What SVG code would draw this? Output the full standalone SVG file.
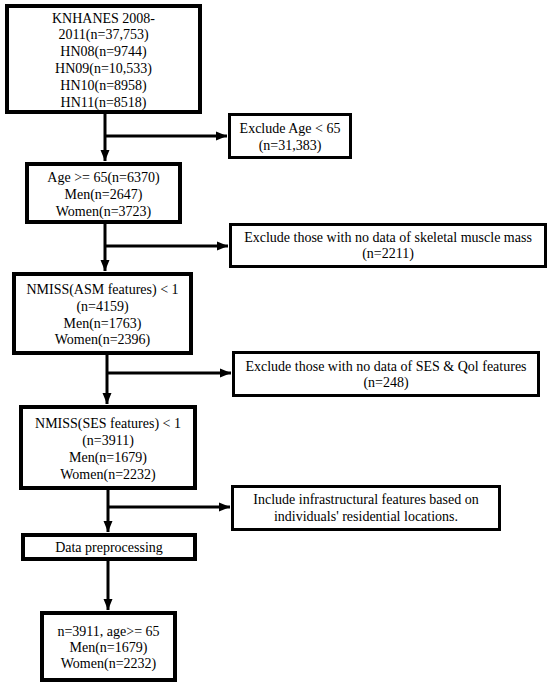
<svg xmlns="http://www.w3.org/2000/svg" width="550" height="686" viewBox="0 0 550 686">
<defs>
<style>
.main{fill:#fff;stroke:#000;stroke-width:4}
.side{fill:#fff;stroke:#000;stroke-width:3}
text{font-family:"Liberation Serif","Times New Roman",serif;font-size:14px;fill:#000;text-anchor:middle}
.c{fill:none;stroke:#000;stroke-width:3}
</style>
<marker id="ah" markerUnits="userSpaceOnUse" markerWidth="12" markerHeight="12" viewBox="0 0 12 12" refX="11" refY="6" orient="auto">
<path d="M0,1.5 L11,6 L0,10.5 Z" fill="#000"/>
</marker>
</defs>
<rect width="550" height="686" fill="#fff"/>
<g id="connectors">
<line class="c" x1="105" y1="114" x2="105" y2="161" marker-end="url(#ah)"/>
<line class="c" x1="105" y1="136" x2="227" y2="136" marker-end="url(#ah)"/>
<line class="c" x1="105" y1="224" x2="105" y2="271" marker-end="url(#ah)"/>
<line class="c" x1="105" y1="246" x2="228" y2="246" marker-end="url(#ah)"/>
<line class="c" x1="107" y1="355" x2="107" y2="404" marker-end="url(#ah)"/>
<line class="c" x1="107" y1="373" x2="231" y2="373" marker-end="url(#ah)"/>
<line class="c" x1="108" y1="490" x2="108" y2="532" marker-end="url(#ah)"/>
<line class="c" x1="108" y1="507" x2="230" y2="507" marker-end="url(#ah)"/>
<line class="c" x1="108" y1="561" x2="108" y2="610" marker-end="url(#ah)"/>
</g>
<g id="n1">
<rect class="main" x="7" y="6" width="193" height="106"/>
<text x="103.5" y="22.5">KNHANES 2008-</text>
<text x="103.5" y="39.3">2011(n=37,753)</text>
<text x="103.5" y="56.1">HN08(n=9744)</text>
<text x="103.5" y="72.9">HN09(n=10,533)</text>
<text x="103.5" y="89.7">HN10(n=8958)</text>
<text x="103.5" y="106.5">HN11(n=8518)</text>
</g>
<g id="n2">
<rect class="side" x="229.5" y="114.5" width="121" height="43"/>
<text x="290" y="133">Exclude Age &lt; 65</text>
<text x="290" y="150">(n=31,383)</text>
</g>
<g id="n3">
<rect class="main" x="27" y="164" width="153" height="58"/>
<text x="103.5" y="182">Age &gt;= 65(n=6370)</text>
<text x="103.5" y="198.5">Men(n=2647)</text>
<text x="103.5" y="215.5">Women(n=3723)</text>
</g>
<g id="n4">
<rect class="side" x="230.5" y="224.5" width="315" height="42"/>
<text x="388" y="242">Exclude those with no data of skeletal muscle mass</text>
<text x="388" y="258">(n=2211)</text>
</g>
<g id="n5">
<rect class="main" x="14" y="274" width="177" height="79"/>
<text x="102.5" y="294">NMISS(ASM features) &lt; 1</text>
<text x="102.5" y="311">(n=4159)</text>
<text x="102.5" y="328">Men(n=1763)</text>
<text x="102.5" y="344">Women(n=2396)</text>
</g>
<g id="n6">
<rect class="side" x="233.5" y="352.5" width="305" height="43"/>
<text x="386" y="371">Exclude those with no data of SES &amp; Qol features</text>
<text x="386" y="387">(n=248)</text>
</g>
<g id="n7">
<rect class="main" x="21" y="407" width="174" height="81"/>
<text x="108" y="428">NMISS(SES features) &lt; 1</text>
<text x="108" y="445">(n=3911)</text>
<text x="108" y="462">Men(n=1679)</text>
<text x="108" y="479">Women(n=2232)</text>
</g>
<g id="n8">
<rect class="side" x="232.5" y="486.5" width="267" height="43"/>
<text x="366" y="504">Include infrastructural features based on</text>
<text x="366" y="521">individuals' residential locations.</text>
</g>
<g id="n9">
<rect class="main" x="23" y="535" width="172" height="24"/>
<text x="109" y="552">Data preprocessing</text>
</g>
<g id="n10">
<rect class="main" x="42" y="613" width="133" height="67"/>
<text x="108.5" y="636">n=3911, age&gt;= 65</text>
<text x="108.5" y="652">Men(n=1679)</text>
<text x="108.5" y="668">Women(n=2232)</text>
</g>
</svg>
